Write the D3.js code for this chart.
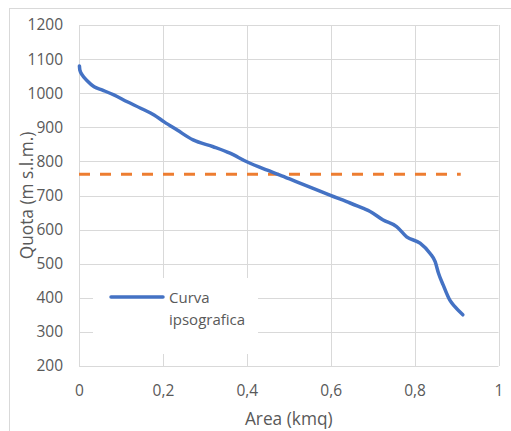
<!DOCTYPE html>
<html>
<head>
<meta charset="utf-8">
<script src="https://cdn.jsdelivr.net/npm/d3@7"></script>
<style>
  html, body { margin: 0; padding: 0; background: #fff; }
  svg { display: block; }
  text { font-family: "Open Sans", sans-serif; fill: #595959; }
</style>
</head>
<body>
<script>
// ---- data ----
const areaKmq = [0.001, 0.002, 0.008, 0.020, 0.036, 0.056, 0.083, 0.115, 0.147, 0.179, 0.203, 0.234, 0.272, 0.320, 0.360, 0.400, 0.447, 0.479, 0.519, 0.558, 0.598, 0.638, 0.678, 0.694, 0.725, 0.757, 0.781, 0.813, 0.837, 0.849, 0.857, 0.868, 0.884, 0.896, 0.915];
const quota   = [1080, 1068, 1053, 1036, 1019, 1009, 995, 975, 956, 936, 916, 892, 863, 843, 824, 799, 775, 760, 740, 721, 701, 682, 662, 653, 628, 609, 579, 560, 530, 506, 472, 438, 393, 374, 350];
const refLevel = 762;
const refAreaRange = [0, 0.91];
const xTicks = [0, 0.2, 0.4, 0.6, 0.8, 1];
const yTicks = [200, 300, 400, 500, 600, 700, 800, 900, 1000, 1100, 1200];
const seriesName = ["Curva", "ipsografica"];
const xTitle = "Area (kmq)";
const yTitle = "Quota (m s.l.m.)";

// ---- layout ----
const W = 511, H = 431;
const svg = d3.select("body").append("svg").attr("width", W).attr("height", H);

svg.append("rect").attr("x", 9.5).attr("y", 8.5).attr("width", 520).attr("height", 440)
  .attr("fill", "#fff").attr("stroke", "#d9d9d9").attr("stroke-width", 1);

const x = d3.scaleLinear().domain([0, 1]).range([79, 498.5]);
const y = d3.scaleLinear().domain([200, 1200]).range([366, 25]);

const fmt = d => String(d).replace(".", ",");

// gridlines
const grid = svg.append("g");
grid.selectAll(".vg").data(xTicks).join("line")
  .attr("x1", d => Math.round(x(d)) + 0.5).attr("x2", d => Math.round(x(d)) + 0.5)
  .attr("y1", y(1200)).attr("y2", y(200))
  .attr("stroke", "#d9d9d9").attr("stroke-width", 1);
grid.selectAll(".hg").data(yTicks).join("line")
  .attr("y1", d => Math.round(y(d)) + 0.5).attr("y2", d => Math.round(y(d)) + 0.5)
  .attr("x1", x(0)).attr("x2", x(1))
  .attr("stroke", "#d9d9d9").attr("stroke-width", 1);

// axes (labels only, through d3 axes)
const xAxis = svg.append("g").attr("transform", `translate(0,${y(200)})`)
  .call(d3.axisBottom(x).tickValues(xTicks).tickFormat(fmt).tickSize(0).tickPadding(19));
const yAxis = svg.append("g").attr("transform", `translate(${x(0)},0)`)
  .call(d3.axisLeft(y).tickValues(yTicks).tickFormat(d => d).tickSize(0).tickPadding(16));
[xAxis, yAxis].forEach(a => {
  a.select(".domain").remove();
  a.selectAll("text").style("font-family", "'Open Sans', sans-serif").style("font-size", "15.5px").attr("fill", "#595959");
});

// axis titles
svg.append("text").attr("x", (x(0) + x(1)) / 2).attr("y", 425)
  .attr("text-anchor", "middle").style("font-size", "17.3px").text(xTitle);
svg.append("text").attr("transform", `translate(33,${(y(200) + y(1200)) / 2}) rotate(-90)`)
  .attr("text-anchor", "middle").style("font-size", "17.3px").text(yTitle);

// reference dashed line
svg.append("line")
  .attr("x1", x(refAreaRange[0])).attr("x2", x(refAreaRange[1]))
  .attr("y1", y(refLevel)).attr("y2", y(refLevel))
  .attr("stroke", "#ED7D31").attr("stroke-width", 3)
  .attr("stroke-dasharray", "11,10");

// hypsographic curve
const pts = areaKmq.map((a, i) => [a, quota[i]]);
svg.append("path").datum(pts)
  .attr("d", d3.line().curve(d3.curveMonotoneX).x(d => x(d[0])).y(d => y(d[1])))
  .attr("fill", "none").attr("stroke", "#4472C4").attr("stroke-width", 3.5)
  .attr("stroke-linejoin", "round").attr("stroke-linecap", "round");

// legend
const lg = svg.append("g");
lg.append("rect").attr("x", 93).attr("y", 278).attr("width", 165).attr("height", 76).attr("fill", "#fff");
lg.append("line").attr("x1", 111).attr("x2", 163).attr("y1", 297).attr("y2", 297)
  .attr("stroke", "#4472C4").attr("stroke-width", 3.5).attr("stroke-linecap", "round");
lg.append("text").attr("x", 169).attr("y", 303).style("font-size", "15px").text(seriesName[0]);
lg.append("text").attr("x", 169).attr("y", 325).style("font-size", "15px").text(seriesName[1]);
</script>
</body>
</html>
